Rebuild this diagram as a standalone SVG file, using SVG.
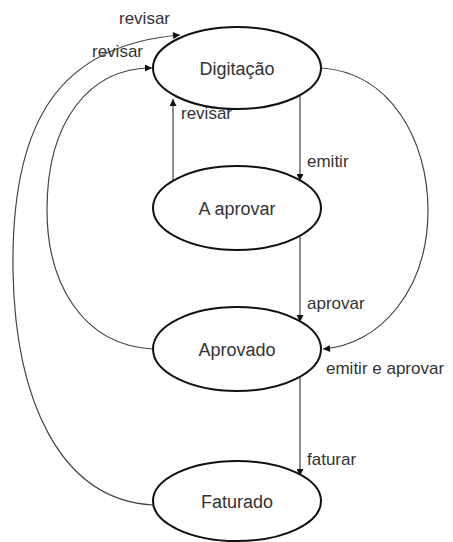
<svg xmlns="http://www.w3.org/2000/svg" width="453" height="542" viewBox="0 0 453 542">
<style>
.node ellipse{fill:#fff;stroke:#111;stroke-width:2}
.node text{font-family:"Liberation Sans",Arial,sans-serif;font-size:18px;fill:#333;text-anchor:middle}
.edges path{fill:none;stroke:#444;stroke-width:1.2}
.lbl{font-family:"Liberation Sans",Arial,sans-serif;font-size:17px;fill:#333}
</style>
<defs>
<marker id="ah" viewBox="0 0 10 10" refX="10" refY="5" markerWidth="9" markerHeight="7" markerUnits="userSpaceOnUse" orient="auto">
<path d="M0 0 L10 5 L0 10 Z" fill="#111"/>
</marker>
</defs>
<g class="edges">
<path d="M300 94 L300 181" marker-end="url(#ah)"/>
<path d="M300 236 L300 322" marker-end="url(#ah)"/>
<path d="M300 377 L300 476" marker-end="url(#ah)"/>
<path d="M173 180 L173 99" marker-end="url(#ah)"/>
<path d="M153 349 C80 345 47 280 47 210 C47 120 90 68 152 68" marker-end="url(#ah)"/>
<path d="M153 505 C60 500 15 400 13 270 C11 120 60 45 180 35" marker-end="url(#ah)"/>
<path d="M321 68 C390 72 428 140 428 210 C428 290 380 345 323 349" marker-end="url(#ah)"/>
</g>
<g class="labels">
<text class="lbl" x="119" y="24">revisar</text>
<text class="lbl" x="92" y="57">revisar</text>
<text class="lbl" x="181" y="119">revisar</text>
<text class="lbl" x="307" y="167">emitir</text>
<text class="lbl" x="307" y="309">aprovar</text>
<text class="lbl" x="326" y="374">emitir e aprovar</text>
<text class="lbl" x="307" y="465">faturar</text>
</g>
<g id="digitacao" class="node"><ellipse cx="237" cy="68" rx="84" ry="41"/><text x="237" y="75">Digitação</text></g>
<g id="a-aprovar" class="node"><ellipse cx="237" cy="208" rx="84" ry="42"/><text x="237" y="215">A aprovar</text></g>
<g id="aprovado" class="node"><ellipse cx="237" cy="349" rx="84" ry="42"/><text x="237" y="356">Aprovado</text></g>
<g id="faturado" class="node"><ellipse cx="237" cy="501" rx="84" ry="40"/><text x="237" y="508">Faturado</text></g>
</svg>
